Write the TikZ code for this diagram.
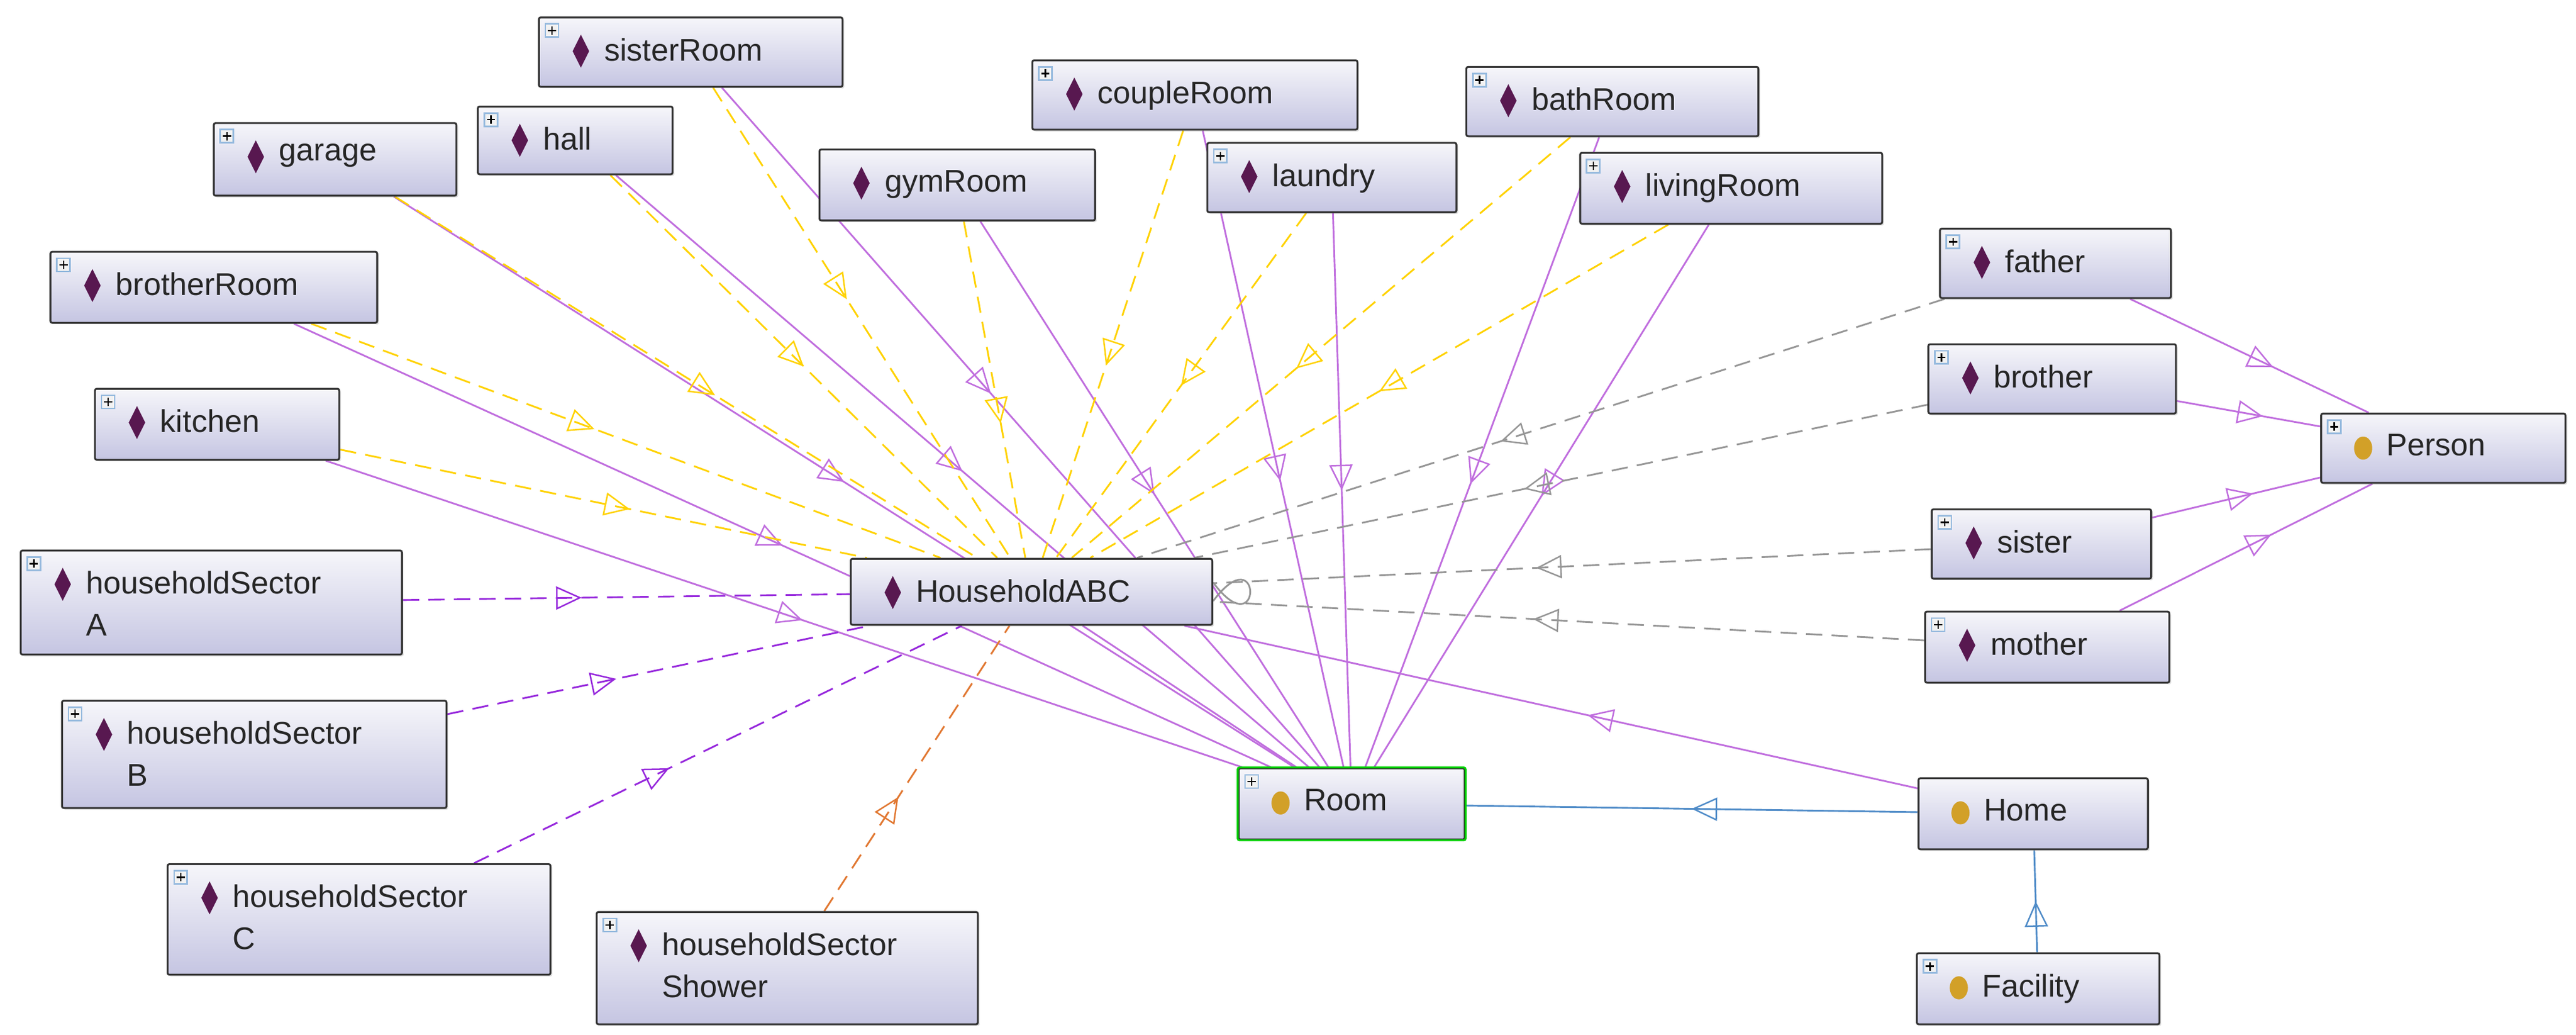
\documentclass[tikz,border=0pt]{standalone}
\usepackage{fontspec}
\setmainfont{Liberation Sans}
\usetikzlibrary{arrows.meta,decorations.markings,shadows,calc}
\definecolor{lav}{RGB}{197,197,226}
\definecolor{top}{RGB}{246,246,250}
\definecolor{ppl}{RGB}{192,110,222}
\definecolor{pdash}{RGB}{150,40,220}
\definecolor{yel}{RGB}{255,210,0}
\definecolor{gry}{RGB}{150,150,150}
\definecolor{org}{RGB}{225,120,50}
\definecolor{blu}{RGB}{80,140,200}
\definecolor{dia}{RGB}{88,24,80}
\definecolor{gold}{RGB}{210,160,40}
\tikzset{
  box/.style={rectangle,rounded corners=1.5pt,draw=black!80,line width=1.6pt,
    top color=top,bottom color=lav,inner sep=0pt,anchor=north west,
    drop shadow={opacity=0.25,shadow xshift=1.5pt,shadow yshift=-1.5pt}},
  lbl/.style={anchor=west,font=\fontsize{27}{32}\selectfont,align=left,inner sep=0pt,text=black!85},
  mid/.style={postaction={decorate},decoration={markings,
     mark=at position #1 with {\arrow[line width=1.3pt,solid]{Triangle[open,length=22pt,width=20pt]}}}},
  mid/.default=0.5,
  ys/.style={yel,line width=1.5pt,dash pattern=on 14pt off 8pt,mid=#1},
  ys/.default=0.55,
  ps/.style={ppl,line width=1.5pt,mid=#1},
  ps/.default=0.5,
  gs/.style={gry,line width=1.5pt,dash pattern=on 14pt off 8pt,mid=#1},
  gs/.default=0.5,
  pd/.style={pdash,line width=1.5pt,dash pattern=on 14pt off 8pt,mid=#1},
  pd/.default=0.5,
  os/.style={org,line width=1.5pt,dash pattern=on 14pt off 8pt,mid=#1},
  os/.default=0.5,
  bs/.style={blu,line width=1.5pt,mid=#1},
  bs/.default=0.5,
}
% name, x1,y1,x2,y2, text, icon(d/c), plus(1/0)
\newcommand\obox[8]{%
  \node[box,minimum width={(#4-#2)*0.05cm},minimum height={(#5-#3)*0.05cm}] (#1) at (#2,#3) {};
  \ifnum#8=1 \fill[blu!60] (#2+4,#3+4) rectangle (#2+13,#3+13);
  \fill[white!90!gray] (#2+5,#3+5) rectangle (#2+12,#3+12);
  \draw[black,line width=1.3pt] (#2+6,#3+8.5) -- (#2+11,#3+8.5) (#2+8.5,#3+6) -- (#2+8.5,#3+11);\fi
  \ifx d#7
    \fill[dia] (#2+26,#3+11) -- (#2+31,#3+21) -- (#2+26,#3+31) -- (#2+21,#3+21) -- cycle;
  \else
    \fill[gold] (#2+26,#3+21.5) ellipse (5.5 and 7);
  \fi
  \node[lbl,anchor=north west] (#1-t) at (#2+40,#3+13) {#6};
}
\begin{document}
\begin{tikzpicture}[x=0.05cm,y=-0.05cm]
\useasboundingbox (0,0) rectangle (1561,627);
\pgfdeclarelayer{bg}\pgfsetlayers{bg,main}
\obox{sisterRoom}{326}{10}{510}{52}{sisterRoom}{d}{1}
\obox{coupleRoom}{625}{36}{822}{78}{coupleRoom}{d}{1}
\obox{bathRoom}{888}{40}{1065}{82}{bathRoom}{d}{1}
\obox{garage}{129}{74}{276}{118}{garage}{d}{1}
\obox{hall}{289}{64}{407}{105}{hall}{d}{1}
\obox{gymRoom}{496}{90}{663}{133}{gymRoom}{d}{0}
\obox{laundry}{731}{86}{882}{128}{laundry}{d}{1}
\obox{livingRoom}{957}{92}{1140}{135}{livingRoom}{d}{1}
\obox{brotherRoom}{30}{152}{228}{195}{brotherRoom}{d}{1}
\obox{father}{1175}{138}{1315}{180}{father}{d}{1}
\obox{brother}{1168}{208}{1318}{250}{brother}{d}{1}
\obox{kitchen}{57}{235}{205}{278}{kitchen}{d}{1}
\obox{Person}{1406}{250}{1554}{292}{Person}{c}{1}
\obox{sister}{1170}{308}{1303}{350}{sister}{d}{1}
\obox{hsA}{12}{333}{243}{396}{householdSector\\[4pt]A}{d}{1}
\obox{habc}{515}{338}{734}{378}{HouseholdABC}{d}{0}
\obox{mother}{1166}{370}{1314}{413}{mother}{d}{1}
\obox{hsB}{37}{424}{270}{489}{householdSector\\[4pt]B}{d}{1}
\obox{Room}{750}{465}{887}{508}{Room}{c}{1}
\draw[green!75!black!70!green,line width=1.6pt,rounded corners=1.5pt] (Room.north west) rectangle (Room.south east);
\obox{Home}{1162}{471}{1301}{514}{Home}{c}{0}
\obox{hsC}{101}{523}{333}{590}{householdSector\\[4pt]C}{d}{1}
\obox{hsS}{361}{552}{592}{620}{householdSector\\[4pt]Shower}{d}{1}
\obox{Facility}{1161}{577}{1308}{620}{Facility}{c}{1}
\begin{pgfonlayer}{bg}
\foreach \n/\p in {sisterRoom/0.45,coupleRoom/0.55,bathRoom/0.55,garage/0.5,hall/0.5,gymRoom/0.5,laundry/0.5,livingRoom/0.5,brotherRoom/0.5,kitchen/0.52}
  \draw[ps=\p] (\n) -- (Room);
\draw[ppl,line width=1.5pt] (habc) -- (Room);
\draw[ps=0.45] (Home) -- (habc);
\foreach \n/\p in {sisterRoom/0.45,coupleRoom/0.55,bathRoom/0.55,garage/0.55,hall/0.5,gymRoom/0.6,laundry/0.5,livingRoom/0.5,brotherRoom/0.45,kitchen/0.55}
  \draw[ys=\p] (\n) -- (habc);
\foreach \n in {father,brother,sister,mother}
  \draw[gs=0.55] (\n) -- (habc);
\draw[gry,line width=1.5pt] ([yshift=-8pt]habc.east) .. controls +(30,-40) and +(30,40) .. ([yshift=8pt]habc.east);
\foreach \n in {father,brother,sister,mother}
  \draw[ps=0.6] (\n) -- (Person);
\draw[pd=0.4] (hsA) -- (habc);
\draw[pd=0.4] (hsB) -- (habc);
\draw[pd=0.4] (hsC) -- (habc);
\draw[os=0.4] (hsS) -- (habc);
\draw[bs=0.5] (Home) -- (Room);
\draw[bs=0.5] (Facility) -- (Home);
\end{pgfonlayer}
\end{tikzpicture}
\end{document}
